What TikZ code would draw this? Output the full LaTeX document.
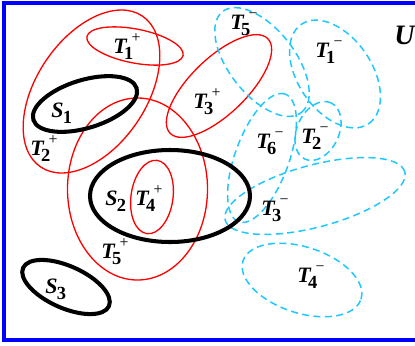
\documentclass[tikz,border=0pt]{standalone}
\usepackage{fontspec}
\setmainfont{Liberation Serif}
\definecolor{negcyan}{RGB}{30,200,255}
\tikzset{
  posset/.style  = {draw=red, line width=0.75pt},
  negset/.style  = {draw=negcyan, line width=0.85pt, dash pattern=on 4pt off 2.5pt},
  seedset/.style = {draw=black, line width=2.3pt},
  frame/.style   = {draw=blue, line width=2.3pt},
  lab/.style     = {font=\fontsize{12.5}{14}\selectfont\bfseries\itshape, inner sep=0pt, anchor=base west},
}
\newcommand{\setlab}[3]{#1\rlap{\kern0.22em\raisebox{0.48em}{\fontsize{9}{9}\selectfont\mdseries\upshape #3}}\kern-0.12em\raisebox{-0.28em}{\fontsize{10.5}{11}\selectfont\upshape #2}}
\newcommand{\seedlab}[2]{#1\kern-0.03em\raisebox{-0.28em}{\fontsize{10.5}{11}\selectfont\upshape #2}}

\begin{document}
\begin{tikzpicture}[x=0.02cm, y=0.02cm]
  \useasboundingbox (0,0) rectangle (415,-345);
  \clip (0,0) rectangle (415,-345);
  \draw[frame] (4,-3) rectangle (425,-340);

  \draw[posset, rotate around={56:(91.5,-91.5)}] (91.5,-91.5) ellipse (91 and 55);
  \draw[posset, rotate around={-11:(135,-46)}] (135,-46) ellipse (49 and 17);
  \draw[posset, rotate around={44:(219,-86)}] (219,-86) ellipse (68 and 28);
  \draw[posset] (137.5,-189) ellipse (70 and 91);
  \draw[posset, rotate around={-8:(152,-197)}] (152,-197) ellipse (21 and 37);

  \draw[negset, rotate around={-52:(262,-62)}] (262,-62) ellipse (64 and 33);
  \draw[negset, rotate around={-56:(335,-74)}] (335,-74) ellipse (60 and 37);
  \draw[negset, rotate around={70:(262,-158)}] (262,-158) ellipse (68 and 27);
  \draw[negset, rotate around={65:(318,-131)}] (318,-131) ellipse (31 and 21);
  \draw[negset, rotate around={15:(315,-196)}] (315,-196) ellipse (93 and 31);
  \draw[negset, rotate around={-18:(302,-280)}] (302,-280) ellipse (62 and 33);

  \draw[seedset, rotate around={17:(85,-104)}] (85,-104) ellipse (54 and 24);
  \draw[seedset] (170,-196) ellipse (80 and 46);
  \draw[seedset, rotate around={-24:(66,-287)}] (66,-287) ellipse (47 and 21);

  \node[lab] (tp1) at (113,-53) {\setlab{T}{1}{+}};
  \node[lab] (tp2) at (30,-155) {\setlab{T}{2}{+}};
  \node[lab] (tp3) at (193,-108) {\setlab{T}{3}{+}};
  \node[lab] (tp4) at (135,-205) {\setlab{T}{4}{+}};
  \node[lab] (tp5) at (101,-258) {\setlab{T}{5}{+}};
  \node[lab] (tm1) at (315,-57) {\setlab{T}{1}{−}};
  \node[lab] (tm2) at (301,-143) {\setlab{T}{2}{−}};
  \node[lab] (tm3) at (261,-215) {\setlab{T}{3}{−}};
  \node[lab] (tm4) at (297,-282) {\setlab{T}{4}{−}};
  \node[lab] (tm5) at (230,-29) {\setlab{T}{5}{−}};
  \node[lab] (tm6) at (256,-148) {\setlab{T}{6}{−}};
  \node[lab] (s1) at (51,-117) {\seedlab{S}{1}};
  \node[lab] (s2) at (105,-205) {\seedlab{S}{2}};
  \node[lab] (s3) at (45,-293) {\seedlab{S}{3}};
  \node[lab, font=\fontsize{16}{18}\selectfont\bfseries\itshape] (univ) at (394,-44) {U};
\end{tikzpicture}
\end{document}
